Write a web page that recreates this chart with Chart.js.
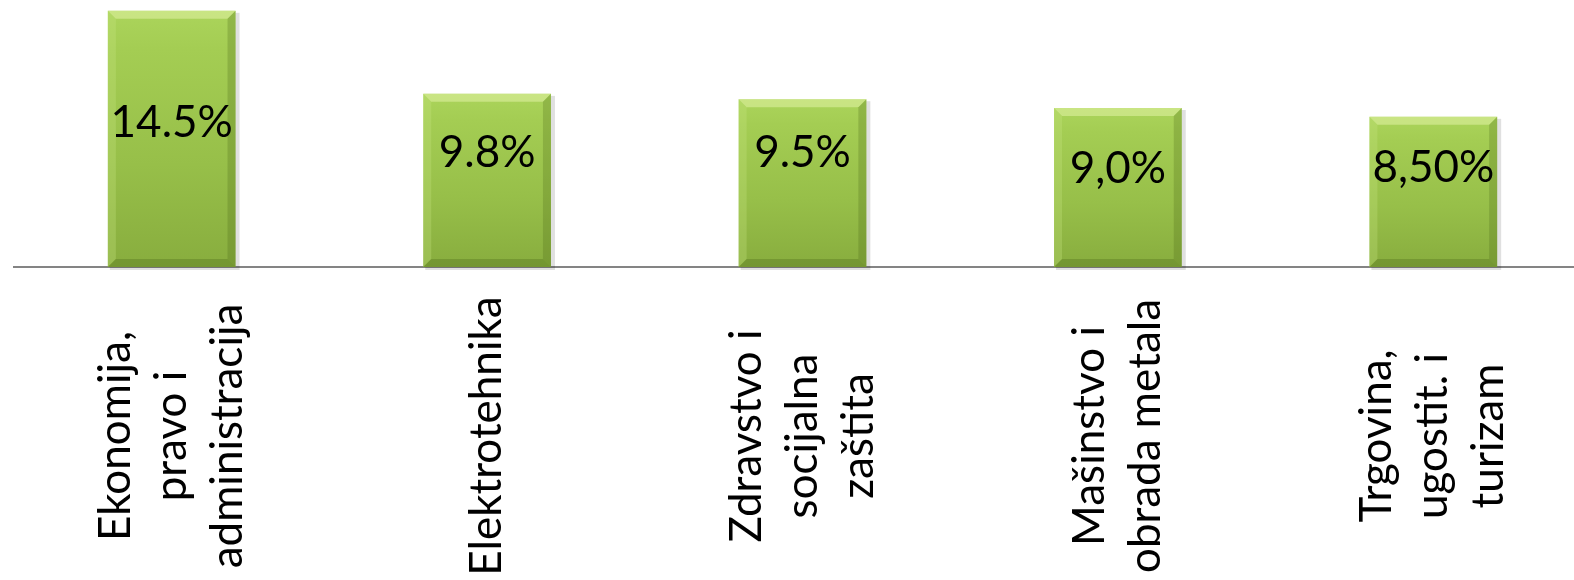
<!DOCTYPE html>
<html>
<head>
<meta charset="utf-8">
<script src="https://cdn.jsdelivr.net/npm/chart.js@4/dist/chart.umd.min.js"></script>
<style>
    html, body { margin: 0; padding: 0; background: #ffffff; overflow: hidden; }
    #wrap { width: 1596px; height: 580px; }
</style>
</head>
<body>
<div id="wrap"><canvas id="ChartCanvas" width="1596" height="580"></canvas></div>
<script>
// Data
const categories = [
    ['Ekonomija,', 'pravo i', 'administracija'],
    ['Elektrotehnika'],
    ['Zdravstvo i', 'socijalna', 'zaštita'],
    ['Mašinstvo i', 'obrada metala'],
    ['Trgovina,', 'ugostit. i', 'turizam']
];
const shares = [14.5, 9.8, 9.5, 9.0, 8.5];
const shareLabels = ['14.5%', '9.8%', '9.5%', '9,0%', '8,50%'];

const FONT = 'Lato, "Open Sans", sans-serif';

class ShareChart
{
    constructor()
    {
        this.labelDrop = [112, 59, 54, 61, 51]; // how far below each bar top the value text sits
        this.Draw();
    }

    // vertical gradient for one bar, from its top down to the baseline
    BarFill(context)
    {
        const chart = context.chart;
        if (!chart.chartArea || !chart.scales.y) return '#9cc44a';
        const y = chart.scales.y;
        const top = y.getPixelForValue(context.raw);
        const base = y.getPixelForValue(0);
        const g = chart.ctx.createLinearGradient(0, top, 0, base);
        g.addColorStop(0, '#abd45b');
        g.addColorStop(0.15, '#a4cd53');
        g.addColorStop(0.6, '#97bf49');
        g.addColorStop(1, '#88ad3e');
        return g;
    }

    Draw()
    {
        const self = this;

        // bevel edges + value labels drawn on top of the bars
        const barDecor = {
            id: 'barDecor',
            beforeDatasetsDraw(chart)
            {
                // soft shadow behind each bar
                const ctx = chart.ctx;
                chart.getDatasetMeta(0).data.forEach(bar =>
                {
                    ctx.save();
                    ctx.fillStyle = 'rgba(0,0,0,0.12)';
                    ctx.fillRect(bar.x - bar.width / 2 + 2, bar.y + 2, bar.width + 2, bar.base - bar.y + 1);
                    ctx.restore();
                });
            },
            afterDatasetsDraw(chart)
            {
                const ctx = chart.ctx;
                const meta = chart.getDatasetMeta(0);
                meta.data.forEach((bar, i) =>
                {
                    const l = bar.x - bar.width / 2, r = bar.x + bar.width / 2;
                    const t = bar.y, b = bar.base, d = 8;
                    ctx.save();
                    // top bevel
                    ctx.fillStyle = 'rgba(225,242,165,0.55)';
                    ctx.beginPath();
                    ctx.moveTo(l, t); ctx.lineTo(r, t); ctx.lineTo(r - d, t + d); ctx.lineTo(l + d, t + d);
                    ctx.closePath(); ctx.fill();
                    // left bevel
                    ctx.fillStyle = 'rgba(200,230,130,0.3)';
                    ctx.beginPath();
                    ctx.moveTo(l, t); ctx.lineTo(l + d, t + d); ctx.lineTo(l + d, b - d); ctx.lineTo(l, b);
                    ctx.closePath(); ctx.fill();
                    // right bevel
                    ctx.fillStyle = 'rgba(70,100,20,0.25)';
                    ctx.beginPath();
                    ctx.moveTo(r, t); ctx.lineTo(r - d, t + d); ctx.lineTo(r - d, b - d); ctx.lineTo(r, b);
                    ctx.closePath(); ctx.fill();
                    // bottom bevel
                    ctx.fillStyle = 'rgba(70,100,20,0.3)';
                    ctx.beginPath();
                    ctx.moveTo(l, b); ctx.lineTo(l + d, b - d); ctx.lineTo(r - d, b - d); ctx.lineTo(r, b);
                    ctx.closePath(); ctx.fill();

                    // value text
                    ctx.fillStyle = '#000000';
                    ctx.font = '44px ' + FONT;
                    ctx.textAlign = 'center';
                    ctx.textBaseline = 'middle';
                    ctx.fillText(shareLabels[i], bar.x, t + self.labelDrop[i]);
                    ctx.restore();
                });
            }
        };

        // rotated, centered category names under the axis
        const categoryText = {
            id: 'categoryText',
            afterDraw(chart)
            {
                const ctx = chart.ctx;
                const xs = chart.scales.x;
                const mid = chart.chartArea.bottom + 169;
                categories.forEach((lines, i) =>
                {
                    ctx.save();
                    ctx.translate(xs.getPixelForValue(i), mid);
                    ctx.rotate(-Math.PI / 2);
                    ctx.fillStyle = '#000000';
                    ctx.font = '44px ' + FONT;
                    ctx.textAlign = 'center';
                    ctx.textBaseline = 'middle';
                    lines.forEach((line, j) =>
                    {
                        ctx.fillText(line, 0, (j - (lines.length - 1) / 2) * 56);
                    });
                    ctx.restore();
                });
            }
        };

        new Chart(document.getElementById('ChartCanvas'),
        {
            type: 'bar',
            data:
            {
                labels: categories.map(c => c.join(' ')),
                datasets:
                [
                    {
                        data: shares,
                        backgroundColor: (c) => this.BarFill(c),
                        borderWidth: 0,
                        categoryPercentage: 1,
                        barPercentage: 0.405
                    }
                ]
            },
            options:
            {
                responsive: false,
                animation: false,
                devicePixelRatio: 1,
                layout: { padding: { left: 14, right: 5, top: 2, bottom: 313 } },
                plugins:
                {
                    legend: { display: false },
                    tooltip: { enabled: false }
                },
                scales:
                {
                    x:
                    {
                        ticks: { display: false },
                        grid: { display: false, drawTicks: false },
                        border: { display: true, color: '#848484', width: 2 }
                    },
                    y:
                    {
                        display: false,
                        min: 0,
                        max: 15
                    }
                }
            },
            plugins: [barDecor, categoryText]
        });
    }
}

new ShareChart();
</script>
</body>
</html>
